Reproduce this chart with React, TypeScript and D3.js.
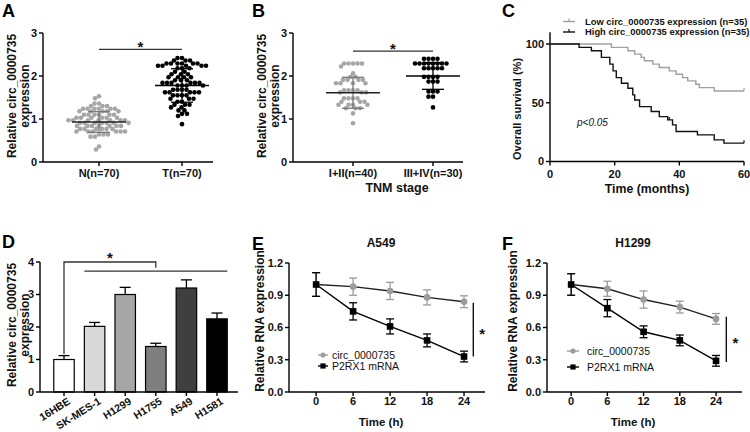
import React from 'react';
import * as d3 from 'd3';

const FONT = '"Liberation Sans", Arial, Helvetica, sans-serif';
const GRAY = '#a6a6a6';
const INK = '#111';

// ---- panel A: circ_0000735 in normal vs tumour tissue (value, count per row)
const aCategories = ['N(n=70)', 'T(n=70)'];
const aNormalRows = [
  [1.53, 1], [1.48, 1], [1.36, 2], [1.3, 3], [1.24, 6], [1.18, 5], [1.1, 6], [1.03, 6],
  [0.97, 7], [0.91, 7], [0.84, 7], [0.77, 6], [0.71, 6], [0.64, 3], [0.59, 2], [0.36, 1], [0.29, 1],
];
const aTumourRows = [
  [2.42, 2], [2.36, 3], [2.29, 6], [2.24, 5], [2.18, 3], [2.1, 2], [2.04, 3], [1.97, 4],
  [1.9, 3], [1.84, 6], [1.78, 4], [1.68, 4], [1.62, 5], [1.55, 4], [1.47, 3], [1.4, 2],
  [1.33, 3], [1.27, 2], [1.2, 2], [1.12, 2], [1.07, 1], [0.88, 1],
];
const aMeans = [0.93, 1.78];
const aSds = [0.24, 0.39];

// ---- panel B: by TNM stage
const bCategories = ['I+II(n=40)', 'III+IV(n=30)'];
const bEarlyRows = [
  [2.29, 5], [2.22, 1], [2.06, 1], [1.98, 2], [1.91, 4], [1.83, 4], [1.67, 4], [1.62, 3],
  [1.48, 4], [1.4, 3], [1.33, 4], [1.25, 3], [1.13, 1], [0.9, 1],
];
const bLateRows = [
  [2.4, 4], [2.29, 8], [2.18, 5], [1.98, 4], [1.87, 3], [1.64, 3], [1.52, 2], [1.27, 1],
];
const bMeans = [1.61, 2.0];
const bSds = [0.36, 0.31];
const scatterTicks = [0, 1, 2, 3];

// ---- panel C: Kaplan-Meier, [months, survival %]
const lowSurvival = [
  [0, 100], [19, 97.1], [24.1, 94.3], [26.2, 91.4], [28.2, 88.6], [29.2, 85.7], [31.8, 82.9],
  [33.8, 80], [36.9, 77.1], [39, 74.3], [41, 71.4], [42.6, 68.6], [45.1, 65.7], [46.2, 62.9],
  [50.8, 60], [60, 60],
];
const highSurvival = [
  [0, 100], [9, 97.1], [12.8, 94.3], [15.9, 88.6], [18.5, 82.9], [19.5, 77.1], [20.5, 71.4],
  [22.1, 66.6], [24.1, 62.4], [25.6, 56.7], [26.2, 52.4], [27.7, 46.7], [31.3, 42.5],
  [33.8, 38.2], [36.4, 35.4], [37.9, 31.2], [39, 25.5], [45.6, 22.7], [50.8, 18.4],
  [53.8, 15.6], [60, 15.6],
];
const lowCensored = [60];
const highCensored = [36.9, 60];
const kmXTicks = [0, 20, 40, 60];
const kmYTicks = [0, 50, 100];

// ---- panel D: cell lines
const cellLines = ['16HBE', 'SK-MES-1', 'H1299', 'H1755', 'A549', 'H1581'];
const cellValues = [1.0, 2.02, 3.0, 1.4, 3.2, 2.25];
const cellErrors = [0.12, 0.12, 0.22, 0.1, 0.25, 0.18];
const cellColors = ['#ffffff', '#d9d9d9', '#a6a6a6', '#7f7f7f', '#3f3f3f', '#000000'];
const barTicks = [0, 1, 2, 3, 4];

// ---- panels E/F: RNA decay
const hours = [0, 6, 12, 18, 24];
const eCirc = [1.0, 0.98, 0.94, 0.88, 0.84];
const eCircErr = [0.11, 0.08, 0.08, 0.07, 0.055];
const eP2rx1 = [1.0, 0.75, 0.61, 0.48, 0.33];
const eP2rx1Err = [0.11, 0.08, 0.07, 0.06, 0.05];
const fCirc = [1.0, 0.96, 0.86, 0.79, 0.68];
const fCircErr = [0.1, 0.07, 0.08, 0.055, 0.05];
const fP2rx1 = [1.0, 0.78, 0.56, 0.48, 0.29];
const fP2rx1Err = [0.1, 0.08, 0.055, 0.05, 0.05];
const rnaTicks = [0, 0.3, 0.6, 0.9, 1.2];

const tick = { fontFamily: FONT, fontSize: 11, fontWeight: 700, fill: INK } as const;
const title = { fontFamily: FONT, fontSize: 12, fontWeight: 700, fill: INK } as const;
const letter = { fontFamily: FONT, fontSize: 18, fontWeight: 700, fill: '#000' } as const;
const star = { fontFamily: FONT, fontSize: 15, fontWeight: 700, fill: INK } as const;

const expand = (rows: number[][]) => rows.flatMap(([v, n]) => Array.from({ length: n }, () => v));

// greedy beeswarm, Prism style
function swarm(values: number[], y: (v: number) => number, cx: number, gap: number) {
  const placed: { x: number; y: number }[] = [];
  [...values].sort((a, b) => b - a).forEach((v) => {
    const py = y(v);
    for (let k = 0; k < 600; k++) {
      const px = cx + (k % 2 === 0 ? 1 : -1) * Math.ceil(k / 2) * 0.5;
      if (placed.every((p) => (p.x - px) ** 2 + (p.y - py) ** 2 >= gap * gap)) {
        placed.push({ x: px, y: py });
        break;
      }
    }
  });
  return placed;
}

const YAxis = ({ scale, x, ticks, fmt, top }: any) => {
  const [a, b] = scale.range();
  return (
    <g>
      <line x1={x} x2={x} y1={a} y2={top ?? b} stroke="#000" strokeWidth={1.4} />
      {ticks.map((t: number) => (
        <g key={t}>
          <line x1={x - 4} x2={x} y1={scale(t)} y2={scale(t)} stroke="#000" strokeWidth={1.4} />
          <text x={x - 6} y={scale(t)} dy="0.36em" textAnchor="end" style={tick}>
            {fmt ? fmt(t) : t}
          </text>
        </g>
      ))}
    </g>
  );
};

const XAxisLine = ({ x1, x2, y, ticks }: any) => (
  <g>
    <line x1={x1} x2={x2} y1={y} y2={y} stroke="#000" strokeWidth={1.4} />
    {ticks.map((t: number, i: number) => (
      <line key={i} x1={t} x2={t} y1={y} y2={y + 4} stroke="#000" strokeWidth={1.4} />
    ))}
  </g>
);

const RotTitle = ({ x, y, children, size = 12 }: any) => (
  <text
    transform={`translate(${x},${y}) rotate(-90)`}
    textAnchor="middle"
    dy="0.36em"
    style={{ ...title, fontSize: size }}
  >
    {children}
  </text>
);

function Scatter({ ox, label, cats, pos, groups, means, sds, sigAt, xTitle }: any) {
  const y = d3.scaleLinear().domain([0, 3]).range([162, 33]);
  const x = d3.scalePoint<string>().domain(cats).range([ox + pos[0], ox + pos[1]]);
  const colors = [GRAY, '#000'];
  const x0 = x(cats[0]) as number;
  const x1 = x(cats[1]) as number;
  return (
    <g>
      <text x={ox + 2} y={17} style={letter}>{label}</text>
      <RotTitle x={ox + 12} y={96}>Relative circ_0000735</RotTitle>
      <RotTitle x={ox + 25} y={96}>expression</RotTitle>
      {groups.map((rows: number[][], i: number) => {
        const cx = x(cats[i]) as number;
        const pts = swarm(expand(rows), y, cx, 4.2);
        const mean = y(means[i]);
        const lineCol = i === 0 ? '#222' : '#000';
        const barCol = i === 0 ? '#777' : '#000';
        return (
          <g key={i}>
            {pts.map((p, j) => (
              <circle key={j} cx={p.x} cy={p.y} r={2.3} fill={colors[i]} />
            ))}
            <line x1={cx} x2={cx} y1={y(means[i] - sds[i])} y2={y(means[i] + sds[i])} stroke={barCol} strokeWidth={1.3} />
            <line x1={cx - 11} x2={cx + 11} y1={y(means[i] + sds[i])} y2={y(means[i] + sds[i])} stroke={barCol} strokeWidth={1.3} />
            <line x1={cx - 11} x2={cx + 11} y1={y(means[i] - sds[i])} y2={y(means[i] - sds[i])} stroke={barCol} strokeWidth={1.3} />
            <line x1={cx - 27} x2={cx + 27} y1={mean} y2={mean} stroke={lineCol} strokeWidth={1.5} />
          </g>
        );
      })}
      <YAxis scale={y} x={ox + 43} ticks={scatterTicks} />
      <XAxisLine x1={ox + 43} x2={ox + 213} y={162} ticks={[x0, x1]} />
      {cats.map((c: string) => (
        <text key={c} x={x(c)} y={177} textAnchor="middle" style={tick}>{c}</text>
      ))}
      <line x1={x0} x2={x1} y1={y(sigAt)} y2={y(sigAt)} stroke="#333" strokeWidth={1.3} />
      <text x={(x0 + x1) / 2} y={y(sigAt) + 3} textAnchor="middle" style={star}>*</text>
      {xTitle && (
        <text x={ox + 147} y={192} textAnchor="middle" style={{ ...title, fontSize: 12.5 }}>{xTitle}</text>
      )}
    </g>
  );
}

function KaplanMeier() {
  const x = d3.scaleLinear().domain([0, 60]).range([550, 744]);
  const y = d3.scaleLinear().domain([0, 100]).range([161.5, 44]);
  const step = d3.line<number[]>().x((d) => x(d[0])).y((d) => y(d[1])).curve(d3.curveStepAfter);
  const lastVal = (s: number[][], t: number) => {
    let v = 100;
    s.forEach((d) => { if (d[0] <= t) v = d[1]; });
    return v;
  };
  const series = [
    { data: lowSurvival, cens: lowCensored, color: '#a0a0a0', name: 'Low circ_0000735 expression (n=35)', ly: 21.5 },
    { data: highSurvival, cens: highCensored, color: '#111', name: 'High circ_0000735 expression (n=35)', ly: 32 },
  ];
  return (
    <g>
      <text x={502} y={17} style={letter}>C</text>
      <RotTitle x={517} y={109} size={11}>Overall survival (%)</RotTitle>
      <YAxis scale={y} x={550} ticks={kmYTicks} top={y(110)} />
      <XAxisLine x1={550} x2={744} y={161.5} ticks={kmXTicks.map((t) => x(t))} />
      {kmXTicks.map((t) => (
        <text key={t} x={x(t)} y={178} textAnchor="middle" style={tick}>{t}</text>
      ))}
      <text x={647} y={193} textAnchor="middle" style={{ ...title, fontSize: 12.3 }}>Time (months)</text>
      {series.map((s) => (
        <g key={s.name}>
          <path d={step(s.data) || ''} fill="none" stroke={s.color} strokeWidth={1.4} />
          {s.cens.map((c) => (
            <line key={c} x1={x(c)} x2={x(c)} y1={y(lastVal(s.data, c))} y2={y(lastVal(s.data, c)) - 3} stroke={s.color} strokeWidth={1.2} />
          ))}
          <line x1={563} x2={575} y1={s.ly} y2={s.ly} stroke={s.color} strokeWidth={1.4} />
          <line x1={569} x2={569} y1={s.ly} y2={s.ly - 3} stroke={s.color} strokeWidth={1.2} />
          <text x={585} y={s.ly} dy="0.36em" style={{ ...tick, fontSize: 9.4 }}>{s.name}</text>
        </g>
      ))}
      <text x={577} y={126} style={{ fontFamily: FONT, fontSize: 10, fontStyle: 'italic', fill: INK }}>
        p&lt;0.05
      </text>
    </g>
  );
}

function Bars() {
  const y = d3.scaleLinear().domain([0, 4]).range([392, 262]);
  const x = d3.scaleBand<string>().domain(cellLines).range([48.7, 232.3]).paddingInner(0.33).paddingOuter(0.165);
  const bw = x.bandwidth();
  const cx = (c: string) => (x(c) as number) + bw / 2;
  return (
    <g>
      <text x={2} y={248} style={letter}>D</text>
      <RotTitle x={12} y={325}>Relative circ_0000735</RotTitle>
      <RotTitle x={25} y={325}>expression</RotTitle>
      {cellLines.map((c, i) => (
        <g key={c}>
          <line x1={cx(c)} x2={cx(c)} y1={y(cellValues[i])} y2={y(cellValues[i] + cellErrors[i])} stroke="#000" strokeWidth={1.3} />
          <line x1={cx(c) - 5.5} x2={cx(c) + 5.5} y1={y(cellValues[i] + cellErrors[i])} y2={y(cellValues[i] + cellErrors[i])} stroke="#000" strokeWidth={1.3} />
          <rect x={x(c)} y={y(cellValues[i])} width={bw} height={y(0) - y(cellValues[i])} fill={cellColors[i]} stroke="#000" strokeWidth={1.2} />
          <text
            transform={`translate(${cx(c) + 5},${400}) rotate(-32)`}
            textAnchor="end"
            dy="0.36em"
            style={{ ...tick, fontSize: 10.5 }}
          >
            {c}
          </text>
        </g>
      ))}
      <YAxis scale={y} x={40} ticks={barTicks} />
      <XAxisLine x1={40} x2={238} y={392} ticks={cellLines.map(cx)} />
      <path
        d={`M${cx(cellLines[0])},${y(1.17)}V${y(4)}H${cx(cellLines[3])}V${y(3.82)}`}
        fill="none" stroke="#333" strokeWidth={1.3}
      />
      <line x1={x(cellLines[1])} x2={(x(cellLines[5]) as number) + bw} y1={y(3.72)} y2={y(3.72)} stroke="#333" strokeWidth={1.3} />
      <text x={(cx(cellLines[0]) + cx(cellLines[3])) / 2} y={263} textAnchor="middle" style={star}>*</text>
    </g>
  );
}

function Decay({ ox, label, name, xDomain, xRange, circ, circErr, p2, p2Err, sig, legendX, legendY, titleX, yTitleX }: any) {
  const x = d3.scaleLinear().domain(xDomain).range(xRange);
  const y = d3.scaleLinear().domain([0, 1.2]).range([392, 263]);
  const line = d3.line<number>().x((_, i) => x(hours[i])).y((d) => y(d));
  const errs = (vals: number[], err: number[], col: string) =>
    vals.map((v, i) => (
      <g key={i} stroke={col} strokeWidth={1.3}>
        <line x1={x(hours[i])} x2={x(hours[i])} y1={y(v - err[i])} y2={y(v + err[i])} />
        <line x1={x(hours[i]) - 4} x2={x(hours[i]) + 4} y1={y(v - err[i])} y2={y(v - err[i])} />
        <line x1={x(hours[i]) - 4} x2={x(hours[i]) + 4} y1={y(v + err[i])} y2={y(v + err[i])} />
      </g>
    ));
  const gcol = '#9c9c9c';
  const legendText = { fontFamily: FONT, fontSize: 10.5, fill: INK };
  return (
    <g>
      <text x={ox + 2} y={250} style={letter}>{label}</text>
      <text x={titleX} y={247} textAnchor="middle" style={title}>{name}</text>
      <RotTitle x={yTitleX} y={321} size={12}>Relative RNA expression</RotTitle>
      <YAxis scale={y} x={xRange[0]} ticks={rnaTicks} fmt={d3.format('.1f')} />
      <XAxisLine x1={xRange[0]} x2={xRange[1]} y={392} ticks={hours.map((h) => x(h))} />
      {hours.map((h) => (
        <text key={h} x={x(h)} y={405} textAnchor="middle" style={tick}>{h}</text>
      ))}
      <text x={titleX} y={426} textAnchor="middle" style={{ ...title, fontSize: 11.5 }}>Time (h)</text>
      {errs(circ, circErr, gcol)}
      <path d={line(circ) || ''} fill="none" stroke="#222" strokeWidth={1.4} />
      {circ.map((v: number, i: number) => (
        <circle key={i} cx={x(hours[i])} cy={y(v)} r={3.3} fill={gcol} />
      ))}
      {errs(p2, p2Err, '#000')}
      <path d={line(p2) || ''} fill="none" stroke="#000" strokeWidth={1.4} />
      {p2.map((v: number, i: number) => (
        <rect key={i} x={x(hours[i]) - 3.3} y={y(v) - 3.3} width={6.6} height={6.6} fill="#000" />
      ))}
      <line x1={x(sig[0])} x2={x(sig[0])} y1={y(sig[1])} y2={y(sig[2])} stroke="#000" strokeWidth={1.3} />
      <text x={x(sig[0]) + 9} y={sig[3]} textAnchor="middle" style={star}>*</text>
      <line x1={legendX[0]} x2={legendX[1]} y1={legendY[0]} y2={legendY[0]} stroke={gcol} strokeWidth={1.4} />
      <circle cx={(legendX[0] + legendX[1]) / 2} cy={legendY[0]} r={2.6} fill={gcol} />
      <text x={legendX[2]} y={legendY[0]} dy="0.36em" style={legendText}>circ_0000735</text>
      <line x1={legendX[0]} x2={legendX[1]} y1={legendY[1]} y2={legendY[1]} stroke="#000" strokeWidth={1.4} />
      <rect x={(legendX[0] + legendX[1]) / 2 - 2.6} y={legendY[1] - 2.6} width={5.2} height={5.2} fill="#000" />
      <text x={legendX[2]} y={legendY[1]} dy="0.36em" style={legendText}>P2RX1 mRNA</text>
    </g>
  );
}

export default function App() {
  return (
    <svg
      width={750}
      height={432}
      viewBox="0 0 750 432"
      style={{ position: 'absolute', left: 0, top: 0, background: '#fff' }}
    >
      <Scatter ox={0} label="A" cats={aCategories} pos={[99, 182]} groups={[aNormalRows, aTumourRows]} means={aMeans} sds={aSds} sigAt={2.62} />
      <Scatter ox={250} label="B" cats={bCategories} pos={[103, 183]} groups={[bEarlyRows, bLateRows]} means={bMeans} sds={bSds} sigAt={2.58} xTitle="TNM stage" />
      <KaplanMeier />
      <Bars />
      <Decay
        ox={250} label="E" name="A549" xDomain={[-4.4, 27.4]} xRange={[289, 485]}
        circ={eCirc} circErr={eCircErr} p2={eP2rx1} p2Err={eP2rx1Err}
        sig={[25.5, 0.33, 0.83, 339]} legendX={[318, 328, 332]} legendY={[355, 366]} titleX={381} yTitleX={260}
      />
      <Decay
        ox={500} label="F" name="H1299" xDomain={[-4, 28.3]} xRange={[547, 742]}
        circ={fCirc} circErr={fCircErr} p2={fP2rx1} p2Err={fP2rx1Err}
        sig={[25.7, 0.28, 0.7, 348]} legendX={[567, 579, 587]} legendY={[351, 367]} titleX={633} yTitleX={513}
      />
    </svg>
  );
}
